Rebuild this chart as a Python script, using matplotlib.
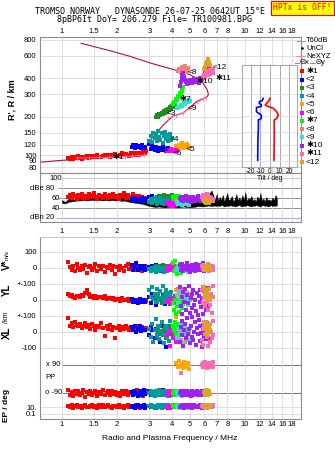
import numpy as np
import matplotlib.pyplot as plt
from matplotlib.ticker import NullLocator

plt.rcParams['font.family'] = ['Liberation Sans', 'DejaVu Sans']

# ---------------- axes ticks
freq_ticks = [1, 1.5, 2, 3, 4, 5, 6, 7, 8, 10, 12, 14, 16, 18]
freq_labels = ['1', '1.5', '2', '3', '4', '5', '6', '7', '8', '10', '12', '14', '16', '18']
height_ticks = [80, 90, 100, 120, 150, 200, 300, 400, 600, 800]
tilt_ticks = [-20, -10, 0, 10, 20]

# ---------------- echo data (freq MHz, virtual height km, amplitude dB,
# V* m/s, YL km, XL km, polarization deg, EP deg)
e1_f = [1.08,1.10,1.13,1.15,1.18,1.20,1.23,1.25,1.28,1.31,1.34,1.37,1.40,1.43,1.46,1.49,1.52,1.56,1.60,1.63,
        1.67,1.71,1.75,1.79,1.83,1.87,1.91,1.95,2.00,2.04,2.08,2.13,2.18,2.23,2.28,2.33,2.38,2.43,2.48,2.53,
        2.58,2.63,2.68,2.73,2.78,2.83,2.88]
e1_h = [95,93,96,94,97,95,98,96,94,97,96,99,95,98,96,99,97,100,97,96,
        99,101,98,100,97,101,99,102,99,98,101,103,100,102,101,99,103,101,104,100,
        103,101,104,102,106,104,108]
e1_a = [62,66,60,68,64,59,67,63,69,61,65,60,68,62,66,70,63,59,67,64,
        61,68,65,60,66,63,69,62,65,59,67,64,70,61,66,63,60,68,62,65,
        59,64,61,63,57,60,58]
e1_v = [40,5,-10,15,-20,25,0,-15,10,-5,20,-30,5,15,-10,0,25,-20,10,-5,
        15,-25,5,0,20,-15,10,-40,5,-10,15,0,-20,10,25,-5,0,-15,20,5,
        -10,10,0,-20,5,15,-5]
e1_yl = [35,25,30,20,15,28,22,18,30,25,45,60,35,20,28,15,25,10,20,18,
         12,25,8,15,10,5,12,0,8,5,-5,10,0,-3,5,-8,0,-5,3,-10,
         -2,-5,-12,0,-8,-3,-6]
e1_xl = [85,40,55,30,60,45,35,50,25,40,55,30,45,20,50,35,15,40,30,55,
         25,-25,35,20,45,10,30,-40,25,40,15,30,20,35,25,15,30,20,25,35,
         15,28,20,30,25,18,22]
e1_pp = [-70,-100,-85,-110,-75,-95,-80,-105,-90,-70,-115,-85,-95,-75,-100,-90,-80,-110,-85,-95,
         -70,-100,-90,-80,-105,-75,-95,-85,-100,-90,-110,-80,-95,-75,-100,-85,-90,-105,-80,-95,
         -70,-100,-90,-85,-110,-95,-80]
e1_ep = [20,8,30,5,15,40,10,25,6,18,35,12,8,22,50,10,15,6,28,12,
         40,8,18,30,10,5,25,15,8,35,12,20,6,18,45,10,25,8,15,30,
         12,20,7,18,25,10,15]

e2_f = [2.40,2.45,2.50,2.55,2.60,2.65,2.70,2.75,2.80,2.85,2.98,3.05,3.12,3.20,3.28,3.35,3.42,3.50,3.58,3.65,3.72,3.80,3.88]
e2_h = [116,119,113,120,115,118,114,121,116,113,122,112,118,110,115,108,113,109,116,111,107,114,110]
e2_a = [58,55,60,56,59,54,57,61,55,58,62,57,64,59,55,61,58,63,56,60,57,54,59]
e2_v = [20,-10,5,30,-15,10,0,-5,15,-10,5,-15,10,-5,20,0,-10,15,-20,5,10,-5,0]
e2_yl = [5,-15,0,-10,-20,5,-5,-15,0,-10,20,-20,40,10,-30,25,0,-10,30,-25,15,5,-5]
e2_xl = [30,10,40,0,20,35,5,25,15,10,-20,30,10,-40,20,5,-60,35,0,-10,-95,25,10]
e2_pp = [-85,-100,-75,-95,-110,-80,-90,-105,-70,-95,-80,-100,-90,-110,-75,-95,-85,-100,-70,-90,-105,-80,-95]
e2_ep = [10,25,6,15,40,8,20,12,30,5,18,8,25,12,6,35,10,20,8,15,30,6,12]

e3_f = [3.25,3.30,3.35,3.40,3.45,3.50,3.55,3.60,3.65,3.70,3.75,3.80,3.85,3.90,3.95,4.00,4.05,4.10,4.15]
e3_h = [200,205,198,210,206,215,208,220,214,225,218,230,224,236,230,242,238,250,256]
e3_a = [60,63,58,65,61,64,59,66,62,60,65,63,58,64,61,66,60,63,59]
e3_v = [10,-5,15,-10,5,0,20,-15,5,10,-5,15,0,-10,5,20,-5,10,0]
e3_yl = [20,-10,35,0,15,-20,25,5,-15,30,10,-5,20,-25,0,15,-10,5,25]
e3_xl = [10,-30,25,-10,40,0,-20,15,30,-40,5,20,-15,35,-5,10,-25,20,0]
e3_pp = [-90,-80,-100,-85,-95,-75,-105,-90,-80,-100,-95,-85,-110,-90,-75,-100,-85,-95,-90]
e3_ep = [12,25,8,18,35,6,15,28,10,20,8,40,12,6,22,15,30,10,18]

e4_f = [3.00,3.05,3.10,3.15,3.20,3.25,3.30,3.35,3.40,3.45,3.50,3.55,3.60,3.65,3.70,3.75,3.80,3.85,3.90,3.95,4.00]
e4_h = [130,142,126,150,135,145,128,154,138,132,148,125,140,152,134,144,129,138,147,131,136]
e4_a = [52,58,50,56,61,54,49,57,53,60,51,55,48,58,52,56,50,54,47,53,51]
e4_v = [-5,-20,0,-15,5,-25,-10,0,-20,5,-15,-5,-25,0,-10,-20,5,-15,0,-10,-5]
e4_yl = [60,20,80,5,40,-10,70,30,0,55,15,85,-5,35,65,10,45,-15,25,50,0]
e4_xl = [20,-30,50,-60,10,80,-20,35,-45,5,60,-10,-70,25,40,-35,15,-55,70,0,30]
e4_pp = [-90,-75,-100,-85,-110,-80,-95,-90,-70,-105,-85,-95,-80,-100,-90,-75,-110,-85,-95,-90,-80]
e4_ep = [15,30,8,20,5,25,12,40,10,18,6,28,14,8,35,12,20,6,25,10,15]

e5_f = [4.20,4.28,4.35,4.42,4.50,4.58,4.65,4.72,4.80,4.88,4.95]
e5_h = [118,114,121,116,124,113,119,115,122,117,114]
e5_a = [55,52,58,50,56,53,49,57,51,54,50]
e5_v = [-10,5,-20,0,10,-15,5,-5,15,-10,0]
e5_yl = [60,20,45,0,70,30,10,50,-10,35,15]
e5_xl = [95,-40,30,-60,10,-80,40,-20,20,-50,0]
e5_pp = [100,75,115,85,95,70,110,90,80,105,65]
e5_ep = [20,8,35,12,6,25,15,40,10,18,30]

e6_f = [3.75,3.82,3.88,3.95,4.02,4.10,4.18,4.25]
e6_h = [108,110,107,111,109,108,110,107]
e6_a = [50,47,52,48,45,51,46,49]
e6_v = [-5,10,-15,5,0,-10,15,-5]
e6_yl = [-10,5,-20,0,-15,10,-5,-25]
e6_xl = [-20,0,-90,10,-40,-5,-60,15]
e6_pp = [-95,-80,-100,-90,-85,-105,-75,-90]
e6_ep = [10,25,6,18,12,30,8,15]

e7_f = [4.05,4.10,4.15,4.20,4.25,4.30,4.35,4.40,4.45,4.50,4.55,4.60]
e7_h = [250,262,258,275,270,290,284,305,300,322,318,342]
e7_a = [62,58,65,60,63,57,64,59,62,56,60,58]
e7_v = [30,-20,45,0,-40,15,-10,25,-30,5,-15,10]
e7_yl = [-20,-60,0,-90,-40,-10,-75,-30,-5,-50,-85,-25]
e7_xl = [40,10,60,-10,25,50,0,35,-20,15,55,5]
e7_pp = [-90,-80,-100,-85,-95,-75,-105,-90,-80,-100,-95,-85]
e7_ep = [15,30,8,20,40,10,25,6,18,12,35,10]

e8_f = [4.30,4.38,4.45,4.52,4.60,4.68,4.75,4.82,4.90]
e8_h = [455,470,448,490,462,500,475,445,480]
e8_a = [56,52,58,50,54,57,51,55,53]
e8_v = [10,-5,20,-15,0,15,-10,5,-20]
e8_yl = [70,40,55,20,60,35,10,45,25]
e8_xl = [-30,10,-50,20,-10,-60,0,-40,15]
e8_pp = [-90,-75,40,-100,-85,-95,-80,-105,-90]
e8_ep = [12,30,8,20,6,25,15,10,35]

e9_f = [4.25,4.32,4.40,4.48,4.55,4.62,4.70,4.78,4.85,4.92,5.00]
e9_h = [232,240,236,248,244,256,250,262,258,270,266]
e9_a = [52,48,55,50,46,53,49,56,51,47,54]
e9_v = [-10,5,-20,0,10,-15,-5,15,-25,0,-10]
e9_yl = [30,-20,50,10,-40,20,-5,40,-30,15,0]
e9_xl = [-40,20,-10,50,-60,0,30,-25,10,-50,25]
e9_pp = [-85,-100,-80,-95,-110,-90,-75,-100,-85,-95,-90]
e9_ep = [10,22,6,15,30,8,18,12,25,5,14]

e10_f = [4.40,4.45,4.50,4.55,4.60,4.65,4.70,4.75,4.80,4.86,4.92,4.98,5.04,5.10,5.16,5.22,5.28,
         5.34,5.40,5.46,5.52,5.58,5.64,5.70,5.76,5.82,5.88,5.94,6.00,6.06,6.12,6.18,6.24,6.30]
e10_h = [350,372,395,420,440,405,385,370,362,378,366,390,372,385,364,380,395,
         370,388,375,392,368,384,398,380,395,410,400,425,440,430,455,470,480]
e10_a = [60,56,63,58,54,61,57,64,59,55,62,58,53,60,56,63,59,
         55,61,57,64,58,54,60,56,62,58,55,61,57,63,59,54,58]
e10_v = [20,-10,5,25,-20,0,15,-5,30,-15,10,-25,5,20,-10,0,15,
         -20,25,-5,10,-15,0,20,-10,5,30,-20,10,-5,15,0,-10,5]
e10_yl = [80,-40,20,-90,50,-10,70,-60,30,-20,90,-80,10,40,-50,60,-30,
          0,-70,45,-95,25,-15,65,-45,15,-85,55,-25,35,-65,5,-35,75]
e10_xl = [-60,30,-20,70,-90,10,50,-40,85,-10,20,-70,40,-30,95,-50,0,
          60,-80,25,-15,75,-55,35,-5,-95,45,-25,15,65,-45,55,-35,5]
e10_pp = [-90,-80,-100,-85,-95,-75,-105,-90,-80,-100,-95,-85,-110,-90,-75,-100,-85,
          -95,-90,-80,-105,-95,-85,-100,-90,-75,-95,-85,-100,-90,-80,-105,-95,-85]
e10_ep = [12,25,8,18,35,6,15,28,10,20,8,40,12,6,22,15,30,
          10,18,25,8,14,35,10,20,6,28,12,18,8,25,15,10,30]

e11_f = [5.80,5.86,5.92,5.98,6.04,6.10,6.16,6.22,6.28,6.34,6.40,6.46,6.52,6.58,6.64,6.70]
e11_h = [395,410,400,425,415,440,430,455,420,445,435,460,450,470,440,465]
e11_a = [62,58,66,60,64,57,68,61,65,59,63,56,60,58,55,57]
e11_v = [10,-5,20,-15,0,15,-10,5,25,-20,0,10,-5,15,-10,5]
e11_yl = [60,-20,80,10,-40,50,-10,30,-60,70,0,-30,40,-80,20,90]
e11_xl = [-50,20,-80,40,-10,60,-30,10,-90,30,-60,50,0,-40,70,-20]
e11_pp = [90,75,100,85,110,80,95,70,105,90,80,100,85,95,75,110]
e11_ep = [15,30,8,20,40,10,25,6,18,12,35,10,22,8,28,14]

e12_f = [6.00,6.05,6.10,6.15,6.20,6.25,6.30,6.35,6.40]
e12_h = [475,490,505,520,535,550,565,540,510]
e12_a = [55,52,58,50,56,53,57,51,54]
e12_v = [5,-10,15,-5,10,0,-15,20,-5]
e12_yl = [80,40,60,20,50,0,30,70,10]
e12_xl = [60,20,-10,40,0,30,-20,50,10]
e12_pp = [-85,-100,-75,-95,-70,-90,-105,-80,-95]
e12_ep = [20,40,10,30,15,50,25,8,35]

echo_labels = ['\u27311', '<2', '<3', '<4', '<5', '<6', '\u27317', '<8', '<9', '\u273110', '\u273111', '<12']
echo_colors = ['#ff0000', '#0000ff', '#228b22', '#009c9c', '#ffa500', '#ff00ff',
               '#00ff00', '#f08080', '#30e0d0', '#a020f0', '#ff69b4', '#daa520']
# label anchor positions on the ionogram (MHz, km)
label_f = [1.88, 3.45, 3.75, 3.85, 4.75, 4.02, 4.38, 4.85, 4.85, 5.45, 6.9, 6.65]
label_h = [96, 111, 210, 133, 111, 102, 270, 445, 232, 378, 400, 485]

# ---------------- profile and NeXYZ
prof_f = [0.76,1.0,1.5,2.0,2.4,2.7,2.8,3.0,3.3,3.57,4.04,4.6,5.0,5.45,5.8,6.04,6.25,6.3,6.2,5.8,5.0,4.06,3.03,2.35,1.8,1.27]
prof_h = [88,91,94,97,100,103,110,128,150,172,202,214,236,264,274,280,290,300,326,378,426,467,526,593,660,750]
nexyz_lo_f = [1.2,1.4,1.6,1.8,2.0,2.2,2.4,2.6,2.8]
nexyz_lo_h = [95,95,96,96,97,97,98,99,100]
nexyz_hi_f = [3.8,4.2,4.6,5.0,5.5,5.9,6.1]
nexyz_hi_h = [195,204,214,232,258,274,280]

# ---------------- noise trace (T60dB)
noise_f = [1.00,1.04,1.08,1.12,1.17,1.22,1.26,1.32,1.37,1.42,1.48,1.54,1.60,1.67,1.73,1.80,1.87,1.95,2.03,2.11,
           2.19,2.28,2.37,2.46,2.56,2.67,2.77,2.88,3.00,3.12,3.24,3.37,3.51,3.65,3.79,3.95,4.10,4.27,4.44,4.62,
           4.80,4.99,5.19,5.40,5.62,5.84,6.07,6.32,6.57,6.83,
           7.00,7.13,7.27,7.41,7.55,7.69,7.84,7.99,8.14,8.30,8.46,8.62,8.78,8.95,9.12,9.30,9.47,9.65,9.84,10.03,
           10.22,10.41,10.61,10.82,11.02,11.23,11.45,11.67,11.89,12.12,12.35,12.58,12.82,13.07,13.32,13.57,
           13.83,14.10,14.37,14.64,14.92]
noise_top = [56,52,58,60,57,62,59,63,60,64,61,63,60,64,61,62,59,63,61,66,
             74,65,62,60,58,57,59,56,52,58,55,60,54,58,52,56,50,55,51,54,
             50,56,53,58,54,60,62,68,75,55,
             68,54,62,56,66,53,60,70,55,58,64,53,57,68,55,61,54,66,56,72,
             53,60,57,64,54,58,53,63,56,70,54,59,53,62,55,57,
             54,61,55,66,60]
noise_bot = [50,49,52,53,54,55,55,56,55,56,56,55,56,55,56,55,56,55,56,54,
             55,53,52,51,50,49,48,46,44,43,42,43,42,41,42,43,42,41,42,43,
             42,41,42,43,44,43,44,45,44,45,
             44,45,44,46,45,43,44,45,44,46,44,45,43,44,45,46,44,43,45,44,
             46,45,44,43,45,44,46,45,44,43,45,46,44,45,43,44,
             46,44,45,44,46]

# ---------------- tilt
tilt_y_h = [91,131,166,188,193,205,210,218,235,240,248,252,262,266,277]
tilt_y_deg = [-12.7,-12.5,-12,-12,-9,-9,-11,-14,-14,-9,-9,-11,-11,-8,-7]
tilt_x_h = [91,131,188,193,205,218,232,239,246,254,261,277]
tilt_x_deg = [4.1,4.4,4.4,7,8.6,6.9,3.4,-1.7,-5,-3.4,-1.7,0]

echoes = [
    (e1_f, e1_h, e1_a, e1_v, e1_yl, e1_xl, e1_pp, e1_ep),
    (e2_f, e2_h, e2_a, e2_v, e2_yl, e2_xl, e2_pp, e2_ep),
    (e3_f, e3_h, e3_a, e3_v, e3_yl, e3_xl, e3_pp, e3_ep),
    (e4_f, e4_h, e4_a, e4_v, e4_yl, e4_xl, e4_pp, e4_ep),
    (e5_f, e5_h, e5_a, e5_v, e5_yl, e5_xl, e5_pp, e5_ep),
    (e6_f, e6_h, e6_a, e6_v, e6_yl, e6_xl, e6_pp, e6_ep),
    (e7_f, e7_h, e7_a, e7_v, e7_yl, e7_xl, e7_pp, e7_ep),
    (e8_f, e8_h, e8_a, e8_v, e8_yl, e8_xl, e8_pp, e8_ep),
    (e9_f, e9_h, e9_a, e9_v, e9_yl, e9_xl, e9_pp, e9_ep),
    (e10_f, e10_h, e10_a, e10_v, e10_yl, e10_xl, e10_pp, e10_ep),
    (e11_f, e11_h, e11_a, e11_v, e11_yl, e11_xl, e11_pp, e11_ep),
    (e12_f, e12_h, e12_a, e12_v, e12_yl, e12_xl, e12_pp, e12_ep),
]

# lower panel rows, stacked on one axis (1 unit = 100 m/s or 100 km)
V0, YL0, XL0 = 9.4375, 7.4375, 5.4375
PP_MID, PP_HALF = 2.5, 0.875
EP10, EP_DEC = 0.75, 0.21875

W, H = 335, 451
fig = plt.figure(figsize=(W / 100, H / 100), dpi=100)

def box(x0, y0, x1, y1):
    return [x0 / W, 1 - y1 / H, (x1 - x0) / W, (y1 - y0) / H]

FMIN, FMAX = 0.758, 20.2
GRID = '#d8d8dc'
EDGE = '#8c8c8c'
TS = 5.5

def freq_axis(a):
    a.set_xscale('log')
    a.set_xlim(FMIN, FMAX)
    a.set_xticks(freq_ticks)
    a.set_xticklabels(freq_labels)
    a.xaxis.set_minor_locator(NullLocator())
    a.tick_params(axis='both', length=0, labelsize=TS)
    a.grid(True, axis='x', color=GRID, lw=0.6)
    for s in a.spines.values():
        s.set_color(EDGE)
        s.set_linewidth(0.8)

# ---------------- ionogram
ax = fig.add_axes(box(40, 37, 301, 173))
freq_axis(ax)
ax.set_yscale('log')
ax.set_ylim(72.4, 840)
ax.set_yticks(height_ticks)
ax.set_yticklabels([str(t) for t in height_ticks])
ax.yaxis.set_minor_locator(NullLocator())
ax.grid(True, axis='y', color=GRID, lw=0.6)
ax.xaxis.tick_top()
ax.tick_params(axis='x', pad=1.5)
ax.tick_params(axis='y', pad=2.5)

ax.plot(prof_f, prof_h, color='#b0103a', lw=0.8, zorder=2)
ax.plot(nexyz_lo_f, nexyz_lo_h, color='#ff80a0', lw=0.6, marker='|', ms=3, mew=0.8, zorder=4)
ax.plot(nexyz_hi_f, nexyz_hi_h, color='#ff80a0', lw=0.6, marker='|', ms=3, mew=0.8, zorder=4)
for (f, h, *_), col in zip(echoes, echo_colors):
    ax.scatter(f, h, s=5, marker='s', c=col, linewidths=0, zorder=3)
for lab, lf, lh in zip(echo_labels, label_f, label_h):
    ax.text(lf, lh, lab, fontsize=6, color='black', va='center', zorder=5)

# ---------------- amplitude panel
amp = fig.add_axes(box(40, 173, 301, 222))
freq_axis(amp)
amp.set_ylim(12, 110)
amp.set_yticks([])
amp.tick_params(axis='x', pad=4)
amp.fill_between(noise_f, noise_bot, noise_top, color='black', lw=0.3, zorder=2)
for (f, h, a, *_), col in zip(echoes, echo_colors):
    amp.scatter(f, a, s=5, marker='s', c=col, linewidths=0, zorder=3)
amp.hlines(100, 0.99, FMAX, color='#c8c8c8', lw=0.7, zorder=1)
amp.hlines([80, 60, 40], 0.95, FMAX, color='#909090', lw=0.7, zorder=1)
amp.hlines(20, 0.93, FMAX, color='#b0b0e8', lw=0.9, zorder=1)
tr = amp.get_yaxis_transform()
def px_frac(px):
    return (px - 40) / 261
amp.text(px_frac(61.5), 100, '100', transform=tr, ha='right', va='center', fontsize=TS)
amp.text(px_frac(54), 80, 'dBe 80', transform=tr, ha='right', va='center', fontsize=TS)
amp.text(px_frac(60), 60, '60', transform=tr, ha='right', va='center', fontsize=TS)
amp.text(px_frac(60), 40, '40', transform=tr, ha='right', va='center', fontsize=TS)
amp.text(px_frac(54), 20, 'dBn 20', transform=tr, ha='right', va='center', fontsize=TS)

# ---------------- tilt inset
tl = fig.add_axes(box(242, 65, 297, 167))
tl.set_facecolor('white')
tl.set_xlim(-29, 28)
tl.set_yscale('log')
tl.set_ylim(80.6, 505)
tl.set_xticks(tilt_ticks)
tl.set_xticklabels([str(t) for t in tilt_ticks])
tl.set_yticks([t for t in height_ticks if 80.6 < t < 505])
tl.yaxis.set_minor_locator(NullLocator())
tl.set_yticklabels([])
tl.tick_params(length=0, labelsize=4.8, pad=1)
tl.grid(True, axis='y', color='#dcdce4', lw=0.6)
tl.grid(True, axis='x', color='#a8a8a8', lw=0.7)
for s in tl.spines.values():
    s.set_color('#a8a8c0')
    s.set_linewidth(0.8)
tl.plot(tilt_y_deg, tilt_y_h, color='#0000ff', lw=1.2)
tl.plot(tilt_x_deg, tilt_x_h, color='#ff0000', lw=1.2)
tl.set_xlabel('Tilt / deg', fontsize=4.8, labelpad=0)

# ---------------- lower panel (V*, YL, XL, PP, EP)
low = fig.add_axes(box(40, 237, 301, 419))
freq_axis(low)
low.set_ylim(0, 11.375)
row_ticks = [V0 + 1, V0, V0 - 1, YL0, YL0 - 1, XL0, XL0 - 1, EP10, EP10 - 2 * EP_DEC]
row_labels = ['100', '0', '+-100', '0', '+-100', '0', '-100', '10.', '0.1']
low.set_yticks(row_ticks)
low.set_yticklabels(row_labels)
low.grid(True, axis='y', color=GRID, lw=0.6)
low.tick_params(axis='y', pad=2.5)
low.tick_params(axis='x', pad=1.5)
low.spines['top'].set_color('#c8c8c8')
low.hlines([PP_MID + PP_HALF, PP_MID - PP_HALF], 1.0, FMAX, color='#808080', lw=0.8, zorder=1)
ltr = low.get_yaxis_transform()
low.text(px_frac(60), PP_MID + PP_HALF, 'x 90', transform=ltr, ha='right', va='center', fontsize=TS)
low.text(px_frac(62), PP_MID - PP_HALF, 'o -90', transform=ltr, ha='right', va='center', fontsize=TS)
low.text(px_frac(45), PP_MID + 0.1, 'PP', transform=ltr, ha='left', va='center', fontsize=TS)
for (f, h, a, v, yl, xl, pp, ep), col in zip(echoes, echo_colors):
    kw = dict(s=5, marker='s', c=col, linewidths=0, zorder=3)
    low.scatter(f, V0 + np.array(v) / 100, **kw)
    low.scatter(f, YL0 + np.array(yl) / 100, **kw)
    low.scatter(f, XL0 + np.array(xl) / 100, **kw)
    low.scatter(f, PP_MID + np.array(pp) / 90 * PP_HALF, **kw)
    low.scatter(f, EP10 + (np.log10(ep) - 1) * EP_DEC, **kw)

# ---------------- legend column
leg = fig.add_axes(box(295, 36, 335, 170))
leg.set_xlim(295, 335)
leg.set_ylim(170, 36)
leg.axis('off')
leg.plot([297, 305], [41, 41], color='#a0a0a0', lw=0.8)
leg.text(306, 41, 'T60dB', va='center', fontsize=5.5)
leg.plot([301.5], [48], marker='s', color='black', ms=0.8)
leg.text(306, 48, 'UnCl', va='center', fontsize=5.5)
leg.plot([296, 301, 305], [56, 56, 56], color='#ff80a0', lw=0.7, marker='+', ms=3, markevery=[1])
leg.text(306, 56, 'NeXYZ', va='center', fontsize=5.5)
leg.plot([295, 299], [63, 63], color='#e06080', lw=0.7)
leg.text(299.5, 63, '\u0398x', va='center', fontsize=5.5)
leg.plot([310, 315], [63, 63], color='#8080ff', lw=0.7)
leg.text(315.5, 63, '\u0398y', va='center', fontsize=5.5)
for i, (lab, col) in enumerate(zip(echo_labels, echo_colors)):
    y = 71.3 + i * 8.25
    leg.plot([302], [y], marker='s', color=col, ms=2.6, mew=0)
    leg.text(306, y, lab, va='center', fontsize=6)

# ---------------- header and axis labels
mono = 'DejaVu Sans Mono'
fig.text(35 / W, 1 - 12 / H, 'TROMSO NORWAY   DYNASONDE 26-07-25 0642UT 15\u00b0E',
         family=mono, fontsize=6, va='center', ha='left')
fig.text(57 / W, 1 - 20 / H, '8pBP6It DoY= 206.279 File= TR100981.BPG',
         family=mono, fontsize=6, va='center', ha='left')
fig.text(302.5 / W, 1 - 8 / H, 'HPTx is OFF!', family=mono, fontsize=5.8, color='#ff0000',
         va='center', ha='center',
         bbox=dict(boxstyle='square,pad=0.25', fc='#ffff00', ec='#ff0000', lw=0.8))

fig.text(12 / W, 1 - 100 / H, "R', R / km", rotation=90, fontsize=6.5, fontweight='bold',
         va='center', ha='center')
fig.text(7 / W, 1 - 265 / H, 'V*', rotation=90, fontsize=7, fontweight='bold', va='center', ha='center')
fig.text(7 / W, 1 - 255 / H, 'm/s', rotation=90, fontsize=4.5, va='center', ha='center')
fig.text(7 / W, 1 - 290 / H, 'YL', rotation=90, fontsize=7, fontweight='bold', va='center', ha='center')
fig.text(7 / W, 1 - 317 / H, '/km', rotation=90, fontsize=5, va='center', ha='center')
fig.text(7 / W, 1 - 333 / H, 'XL', rotation=90, fontsize=7, fontweight='bold', va='center', ha='center')
fig.text(7 / W, 1 - 405 / H, 'EP / deg', rotation=90, fontsize=6, fontweight='bold', va='center', ha='center')
fig.text(170 / W, 1 - 439 / H, 'Radio and Plasma Frequency / MHz', fontsize=6, va='center', ha='center')

fig.savefig('out.png', dpi=100)
